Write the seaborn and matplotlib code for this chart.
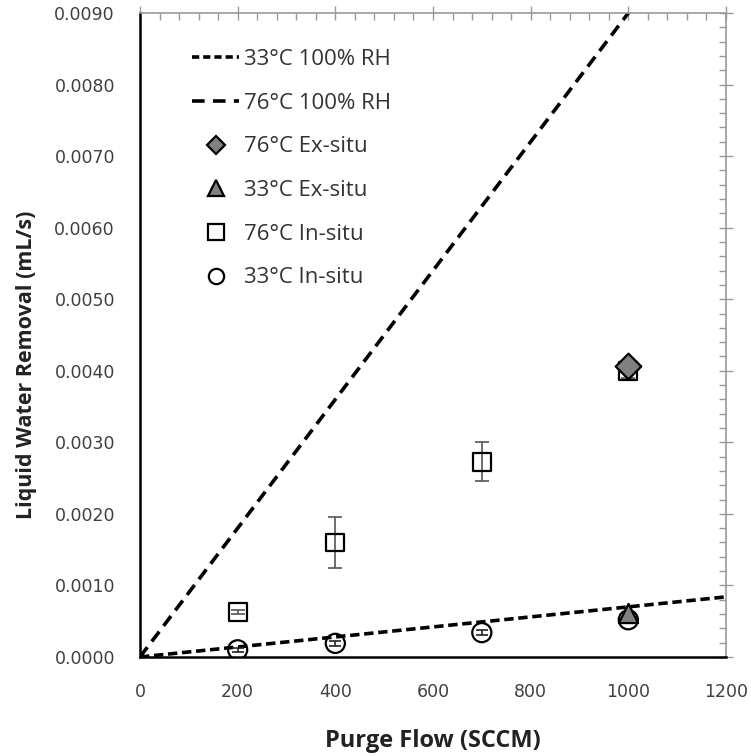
import numpy as np
import pandas as pd
import matplotlib
matplotlib.use("Agg")
import matplotlib.pyplot as plt
import seaborn as sns
from matplotlib.lines import Line2D
from matplotlib.ticker import MultipleLocator, FormatStrFormatter

# ---- data ----
line_x = [0, 1200]
rh33_y = [0.0, 0.00084]
rh76_y = [0.0, 0.0108]

flow = [200, 400, 700, 1000]
in76 = [0.00063, 0.00160, 0.00273, 0.00400]
in76_err = [0.00003, 0.00036, 0.00027, 0.00010]
in33 = [0.00010, 0.00019, 0.00034, 0.00052]
in33_err = [0.00003, 0.00003, 0.00003, 0.00004]
ex_flow = [1000]
ex76 = [0.00407]
ex33 = [0.00062]

labels = ["33°C 100% RH", "76°C 100% RH", "76°C Ex-situ", "33°C Ex-situ",
          "76°C In-situ", "33°C In-situ"]

sns.set_style("white")
plt.rcParams['font.family'] = ['Open Sans', 'DejaVu Sans']

fig = plt.figure(figsize=(7.51, 7.56), dpi=100)
ax = fig.add_axes([0.1864, 0.131, 0.7803, 0.8518])

df33 = pd.DataFrame({"x": line_x, "y": rh33_y})
df76 = pd.DataFrame({"x": line_x, "y": rh76_y})
sns.lineplot(data=df33, x="x", y="y", ax=ax, color="black", lw=2.6, dashes=False)
sns.lineplot(data=df76, x="x", y="y", ax=ax, color="black", lw=2.6, dashes=False)
ax.lines[0].set_dashes((2.6, 1.3))
ax.lines[1].set_dashes((3.4, 2.0))

# error bars
ax.errorbar(flow, in76, yerr=in76_err, fmt="none", ecolor="#555555", elinewidth=1.2,
            capsize=5, capthick=1.2, zorder=3)
ax.errorbar(flow, in33, yerr=in33_err, fmt="none", ecolor="#222222", elinewidth=1.2,
            capsize=4, capthick=1.2, zorder=3)

sns.scatterplot(x=flow, y=in76, ax=ax, marker="s", s=165, facecolor="none",
                edgecolor="black", linewidth=1.6, zorder=4)
sns.scatterplot(x=flow, y=in33, ax=ax, marker="o", s=190, facecolor="none",
                edgecolor="black", linewidth=1.6, zorder=4)
sns.scatterplot(x=ex_flow, y=ex76, ax=ax, marker="D", s=170, color="#808080",
                edgecolor="black", linewidth=1.6, zorder=5)
sns.scatterplot(x=ex_flow, y=ex33, ax=ax, marker="^", s=190, color="#808080",
                edgecolor="black", linewidth=1.6, zorder=5)

ax.set_xlim(0, 1200)
ax.set_ylim(0, 0.009)
ax.xaxis.set_major_locator(MultipleLocator(200))
ax.xaxis.set_minor_locator(MultipleLocator(40))
ax.yaxis.set_major_locator(MultipleLocator(0.001))
ax.yaxis.set_minor_locator(MultipleLocator(0.0002))
ax.yaxis.set_major_formatter(FormatStrFormatter("%.4f"))

ax.tick_params(axis="both", which="major", direction="inout", length=10, width=1.5,
               color="black", labelsize=12.5, labelcolor="#404040")
ax.tick_params(axis="both", which="minor", direction="in", length=5, width=1.2,
               color="black")
ax.tick_params(axis="y", which="major", pad=13)
ax.tick_params(axis="x", which="major", pad=14)
for lab in ax.get_xticklabels() + ax.get_yticklabels():
    lab.set_family(['DejaVu Sans'])

for s in ["left", "bottom"]:
    ax.spines[s].set_color("black")
    ax.spines[s].set_linewidth(1.8)
for s in ["top", "right"]:
    ax.spines[s].set_color("#999999")
    ax.spines[s].set_linewidth(1.2)

secx = ax.secondary_xaxis("top")
secx.xaxis.set_major_locator(MultipleLocator(200))
secx.xaxis.set_minor_locator(MultipleLocator(40))
secx.tick_params(which="major", direction="inout", length=10, width=1.0, color="#999999",
                 labeltop=False)
secx.tick_params(which="minor", direction="in", length=5, width=1.0, color="#999999")
secx.spines["top"].set_visible(False)
secy = ax.secondary_yaxis("right")
secy.yaxis.set_major_locator(MultipleLocator(0.001))
secy.yaxis.set_minor_locator(MultipleLocator(0.0002))
secy.tick_params(which="major", direction="inout", length=10, width=1.0, color="#999999",
                 labelright=False)
secy.tick_params(which="minor", direction="in", length=5, width=1.0, color="#999999")
secy.spines["right"].set_visible(False)

ax.set_xlabel("Purge Flow (SCCM)", fontsize=17, fontweight="bold", labelpad=20,
              color="#222222")
ax.set_ylabel("Liquid Water Removal (mL/s)", fontsize=15.5, fontweight="bold",
              color="#222222")
ax.yaxis.set_label_coords(-0.176, 0.453)

handles = [
    Line2D([], [], color="black", lw=2.6, dashes=(2, 1.1)),
    Line2D([], [], color="black", lw=2.6, dashes=(3.5, 2.3)),
    Line2D([], [], ls="none", marker="D", markersize=9, markerfacecolor="#808080",
           markeredgecolor="black", markeredgewidth=1.6),
    Line2D([], [], ls="none", marker="^", markersize=11, markerfacecolor="#808080",
           markeredgecolor="black", markeredgewidth=1.6),
    Line2D([], [], ls="none", marker="s", markersize=11, markerfacecolor="none",
           markeredgecolor="black", markeredgewidth=1.6),
    Line2D([], [], ls="none", marker="o", markersize=11, markerfacecolor="none",
           markeredgecolor="black", markeredgewidth=1.6),
]
leg = ax.legend(handles, labels, loc="upper left", bbox_to_anchor=(0.055, 0.975),
                frameon=False, fontsize=16, labelspacing=1.02, handlelength=2.1,
                handletextpad=0.25, labelcolor="#333333")

fig.savefig("out.png", dpi=100)
